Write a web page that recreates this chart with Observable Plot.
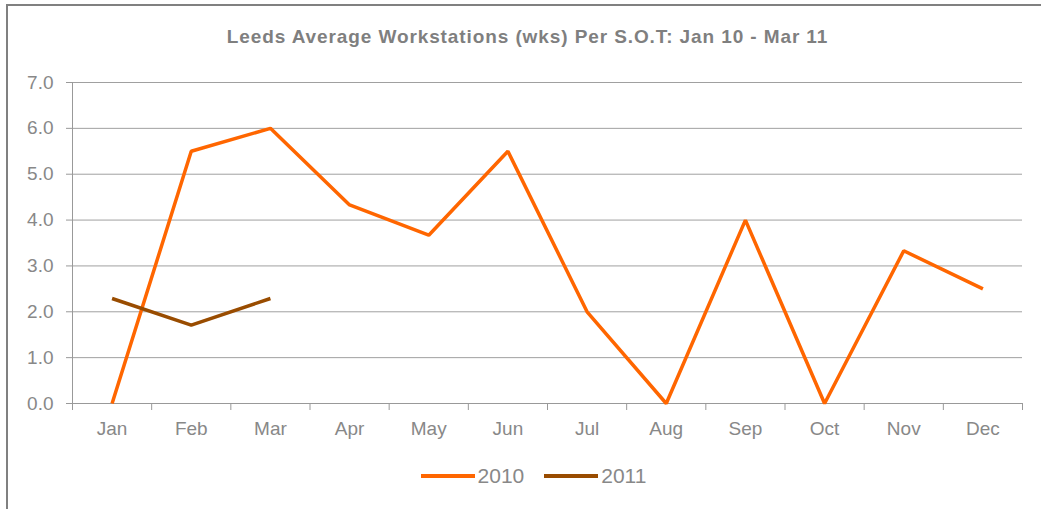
<!DOCTYPE html>
<html>
<head>
<meta charset="utf-8">
<script src="https://cdn.jsdelivr.net/npm/d3@7"></script>
<script src="https://cdn.jsdelivr.net/npm/@observablehq/plot@0.6"></script>
<style>
  html, body { margin: 0; padding: 0; background: #fff; overflow: hidden; }
  #wrap { position: relative; width: 1041px; height: 509px; font-family: "Liberation Sans", Arial, sans-serif; }
  #frame { position: absolute; left: 6px; top: 4px; width: 1100px; height: 600px; border-top: 2px solid #808080; border-left: 2px solid #808080; box-sizing: border-box; }
  #title { position: relative; height: 60px; box-sizing: border-box; padding-top: 27px; line-height: 20px; font-size: 19px; letter-spacing: 0.9px; font-weight: bold; color: #7f7f7f; text-align: center; padding-left: 14px; }
  #chart { position: relative; height: 383px; }
  #legend { position: relative; height: 66px; display: flex; justify-content: center; align-items: center; padding-left: 26px; box-sizing: border-box; font-size: 21px; color: #888; }
  .item { display: flex; align-items: center; margin: 0 10px; }
  .item svg { margin-right: 3px; }
</style>
</head>
<body>
<div id="wrap">
  <div id="frame"></div>
  <div id="title"></div>
  <div id="chart"></div>
  <div id="legend"></div>
</div>
<script>
const title = "Leeds Average Workstations (wks) Per S.O.T: Jan 10 - Mar 11";
const months = ["Jan","Feb","Mar","Apr","May","Jun","Jul","Aug","Sep","Oct","Nov","Dec"];
const series = ["2010", "2011"];
const colors = ["#ff6600", "#994c00"];
const values2010 = [0, 5.5, 6.0, 4.33, 3.67, 5.5, 2.0, 0, 4.0, 0, 3.33, 2.5];
const values2011 = [2.29, 1.71, 2.29];
const yTicks = [0, 1, 2, 3, 4, 5, 6, 7];

document.getElementById("title").textContent = title;

const data = [
  ...values2010.map((v, i) => ({series: "2010", month: months[i], idx: i + 0.5, value: v})),
  ...values2011.map((v, i) => ({series: "2011", month: months[i], idx: i + 0.5, value: v}))
];

const textColor = "#888888";
const chart = Plot.plot({
  width: 1041,
  height: 383,
  marginLeft: 72,
  marginRight: 19,
  marginTop: 22,
  marginBottom: 40,
  style: {fontFamily: "'Liberation Sans', Arial, sans-serif", fontSize: "19px", color: textColor, background: "transparent", overflow: "visible"},
  x: {type: "linear", domain: [0, months.length], axis: null, label: null},
  y: {domain: [0, 7], axis: null, label: null},
  color: {domain: series, range: colors},
  marks: [
    Plot.gridY(yTicks, {stroke: "#a0a0a0", strokeOpacity: 1, strokeWidth: 1}),
    Plot.axisY(yTicks, {label: null, tickFormat: d => d.toFixed(1), tickSize: 6, tickPadding: 13, stroke: "#999", fill: textColor, fontSize: 19}),
    Plot.ruleX([0], {y1: 0, y2: 7, stroke: "#999"}),
    Plot.ruleY([0], {stroke: "#999"}),
    Plot.axisX(d3.range(months.length + 1), {label: null, tickFormat: () => "", tickSize: 7, stroke: "#999"}),
    Plot.axisX(months.map((m, i) => i + 0.5), {label: null, tickFormat: d => months[Math.floor(d)], tickSize: 0, tickPadding: 18, fill: textColor, fontSize: 19}),
    Plot.line(data, {x: "idx", y: "value", z: "series", stroke: "series", strokeWidth: 3.5, strokeLinejoin: "miter", strokeLinecap: "butt"})
  ]
});
document.getElementById("chart").appendChild(chart);

const legend = document.getElementById("legend");
series.forEach((s, i) => {
  const item = document.createElement("div");
  item.className = "item";
  item.innerHTML = `<svg width="54" height="8"><line x1="0" x2="54" y1="4" y2="4" stroke="${colors[i]}" stroke-width="4"/></svg><span>${s}</span>`;
  legend.appendChild(item);
});
</script>
</body>
</html>
